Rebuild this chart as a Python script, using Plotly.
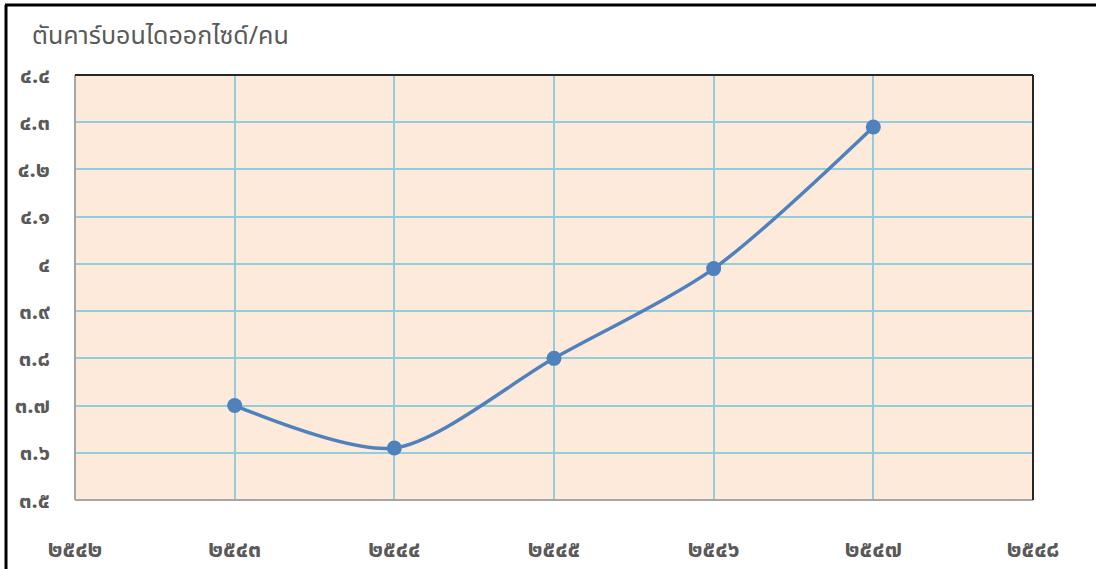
import plotly.graph_objects as go

# Thai Buddhist-era years and carbon dioxide per person (tonnes)
years = [2543, 2544, 2545, 2546, 2547]
co2_per_person = [3.70, 3.61, 3.80, 3.99, 4.29]

x_ticks = [2542, 2543, 2544, 2545, 2546, 2547, 2548]
x_tick_text = ["๒๕๔๒", "๒๕๔๓", "๒๕๔๔", "๒๕๔๕", "๒๕๔๖", "๒๕๔๗", "๒๕๔๘"]
y_ticks = [3.5, 3.6, 3.7, 3.8, 3.9, 4.0, 4.1, 4.2, 4.3, 4.4]
y_tick_text = ["๓.๕", "๓.๖", "๓.๗", "๓.๘", "๓.๙", "๔", "๔.๑", "๔.๒", "๔.๓", "๔.๔"]

title_text = "ตันคาร์บอนไดออกไซด์/คน"

W, H = 1096, 569
L, R, T, B = 75, 63, 75, 69
pw, ph = W - L - R, H - T - B

def px_to_paper_x(px):
    return (px - L) / pw

def px_to_paper_y(py):
    return 1 - (py - T) / ph

fig = go.Figure()
fig.add_trace(go.Scatter(
    x=years, y=co2_per_person,
    mode="lines+markers",
    line=dict(color="#4F81BD", width=3.5, shape="spline", smoothing=0.8),
    marker=dict(color="#4F81BD", size=15),
    hoverinfo="x+y",
))

grid = "#92CDDC"
font_family = "Tahoma, Noto Sans Thai, Loma, DejaVu Sans, sans-serif"
tick_font = dict(family=font_family, size=22, color="#595959", weight="bold")

fig.update_layout(
    width=W, height=H,
    margin=dict(l=L, r=R, t=T, b=B, autoexpand=False),
    paper_bgcolor="white",
    plot_bgcolor="#FDEADA",
    showlegend=False,
    xaxis=dict(range=[2542, 2548], tickvals=x_ticks, ticktext=x_tick_text,
               showgrid=True, gridcolor=grid, gridwidth=2, zeroline=False,
               tickfont=dict(tick_font, size=23), ticks="",
               ticklabelstandoff=33, automargin=False, fixedrange=True),
    yaxis=dict(range=[3.5, 4.4], tickvals=y_ticks, ticktext=y_tick_text,
               showgrid=True, gridcolor=grid, gridwidth=2, zeroline=False,
               tickfont=tick_font, ticks="", ticklabelstandoff=24,
               automargin=False, fixedrange=True),
    annotations=[dict(
        text=title_text, xref="paper", yref="paper",
        x=px_to_paper_x(30), y=px_to_paper_y(36),
        xanchor="left", yanchor="middle", showarrow=False,
        font=dict(family=font_family, size=25, color="#595959"),
    )],
    shapes=[
        # plot-area frame: light left/bottom, dark top/right
        dict(type="line", xref="paper", yref="paper", x0=0, y0=0, x1=1, y1=0,
             line=dict(color="#A6A6A6", width=2)),
        dict(type="line", xref="paper", yref="paper", x0=0, y0=0, x1=0, y1=1,
             line=dict(color="#A6A6A6", width=2)),
        dict(type="line", xref="paper", yref="paper", x0=0, y0=1, x1=1, y1=1,
             line=dict(color="#262626", width=2)),
        dict(type="line", xref="paper", yref="paper", x0=1, y0=0, x1=1, y1=1,
             line=dict(color="#262626", width=2)),
        # outer chart frame on the left and top
        dict(type="line", xref="paper", yref="paper",
             x0=px_to_paper_x(6), y0=px_to_paper_y(H + 5),
             x1=px_to_paper_x(6), y1=px_to_paper_y(5),
             line=dict(color="black", width=3)),
        dict(type="line", xref="paper", yref="paper",
             x0=px_to_paper_x(5), y0=px_to_paper_y(5),
             x1=px_to_paper_x(W + 5), y1=px_to_paper_y(5),
             line=dict(color="black", width=3)),
    ],
)

fig.write_html("out.html")
